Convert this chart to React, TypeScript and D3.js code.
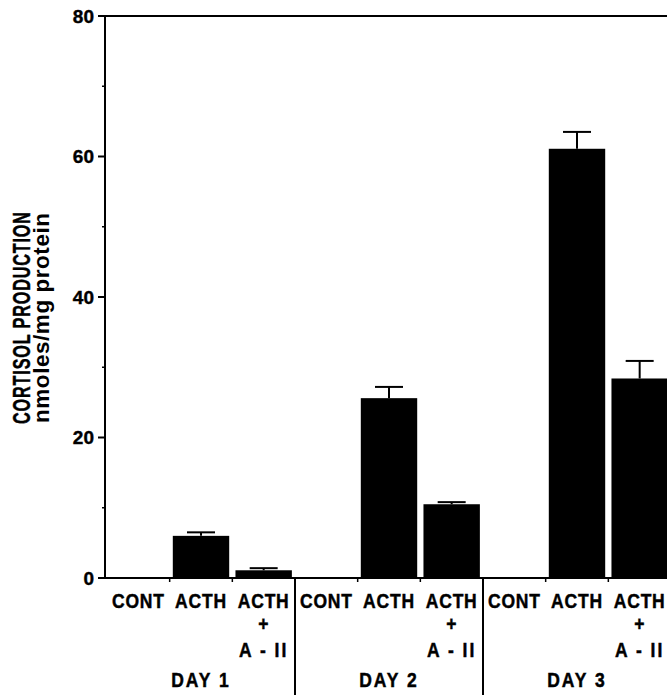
import React, { useRef, useEffect } from 'react'
import * as d3 from 'd3'

const days = ["DAY 1", "DAY 2", "DAY 3"]
const treatments = ["CONT", "ACTH", "ACTH+A-II"]
// mean cortisol per bar, day by day (CONT, ACTH, ACTH + A-II)
const meanValues = [0, 6.0, 1.1, 0, 25.6, 10.5, 0, 61.1, 28.4]
const errValues = [0, 0.5, 0.3, 0, 1.6, 0.3, 0, 2.4, 2.5]
const majorTicks = [0, 20, 40, 60, 80]
const minorTicks = [10, 30, 50, 70]

const FONT = "'Liberation Sans', Arial, sans-serif"

const App = () => {
  const svgRef = useRef<SVGSVGElement>(null)

  useEffect(() => {
    const width = 667
    const height = 695
    const left = 105, top = 16, bottom = 578

    const bars = days.flatMap((day, i) => treatments.map((t, j) => ({
      key: day + "|" + t, day, treat: t,
      value: meanValues[i * 3 + j], err: errValues[i * 3 + j]
    })))

    const svg = d3.select(svgRef.current)
      .attr("width", width)
      .attr("height", height)
    svg.selectAll("*").remove()

    const y = d3.scaleLinear().domain([0, 80]).range([bottom, top])
    const x = d3.scaleBand<string>()
      .domain(bars.map(d => d.key))
      .range([107, 671])
      .paddingInner(0.1)
      .paddingOuter(0.05)
    const gap = (x.step() - x.bandwidth()) / 2
    const slotStart = (k: string) => (x(k) as number) - gap
    const slotEnd = (k: string) => (x(k) as number) + x.bandwidth() + gap

    // bars
    svg.append("g")
      .selectAll("rect")
      .data(bars.filter(d => d.value > 0))
      .join("rect")
        .attr("x", d => x(d.key) as number)
        .attr("width", x.bandwidth())
        .attr("y", d => y(d.value))
        .attr("height", d => y(0) - y(d.value))
        .attr("fill", "#000")

    // error bars
    const eb = svg.append("g").attr("stroke", "#000").attr("stroke-width", 2)
    bars.filter(d => d.err > 0).forEach(d => {
      const cx = (x(d.key) as number) + x.bandwidth() / 2
      eb.append("line").attr("x1", cx).attr("x2", cx)
        .attr("y1", y(d.value)).attr("y2", y(d.value + d.err))
      eb.append("line").attr("x1", cx - 14).attr("x2", cx + 14)
        .attr("y1", y(d.value + d.err)).attr("y2", y(d.value + d.err))
    })

    // frame / axes
    const ax = svg.append("g").attr("stroke", "#000").attr("stroke-width", 2)
    ax.append("line").attr("x1", left).attr("x2", left).attr("y1", top - 1).attr("y2", bottom + 1)
    ax.append("line").attr("x1", 99).attr("x2", width).attr("y1", top).attr("y2", top)
    ax.append("line").attr("x1", left).attr("x2", width).attr("y1", bottom).attr("y2", bottom)

    ax.selectAll(".major").data(majorTicks).join("line")
      .attr("x1", left - 7).attr("x2", left)
      .attr("y1", d => y(d)).attr("y2", d => y(d))
    ax.selectAll(".minor").data(minorTicks).join("line")
      .attr("stroke-width", 1.5)
      .attr("x1", left - 3).attr("x2", left)
      .attr("y1", d => y(d)).attr("y2", d => y(d))

    svg.append("g")
      .attr("font-family", FONT).attr("font-weight", "bold").attr("font-size", 19)
      .attr("stroke", "#000").attr("stroke-width", 0.4)
      .attr("text-anchor", "end")
      .selectAll("text").data(majorTicks).join("text")
        .attr("x", 94).attr("y", d => y(d)).attr("dy", "0.36em")
        .text(d => d)

    // x ticks inside each day and day dividers
    bars.forEach(d => {
      const j = treatments.indexOf(d.treat)
      if (j > 0) {
        ax.append("line").attr("stroke-width", 1.5)
          .attr("x1", slotStart(d.key)).attr("x2", slotStart(d.key))
          .attr("y1", bottom).attr("y2", bottom + 4)
      }
      if (j === 0 && d.day !== days[0]) {
        ax.append("line")
          .attr("x1", slotStart(d.key)).attr("x2", slotStart(d.key))
          .attr("y1", bottom).attr("y2", height)
      }
    })

    // category labels
    const lab = svg.append("g")
      .attr("font-family", FONT).attr("font-weight", "bold").attr("font-size", 17.5)
      .attr("stroke", "#000").attr("stroke-width", 0.4)
      .attr("letter-spacing", 0.8).attr("text-anchor", "middle")
    bars.forEach(d => {
      const cx = (x(d.key) as number) + x.bandwidth() / 2
      const lines = d.treat.split("+")
      lab.append("text").attr("transform", `translate(${cx},608) scale(1,1.18)`).text(lines[0])
      if (lines.length > 1) {
        lab.append("text").attr("transform", `translate(${cx},631) scale(1,1.18)`).text("+")
        lab.append("text").attr("transform", `translate(${cx},657) scale(1,1.18)`)
          .attr("letter-spacing", 2).text(lines[1].replace("-", " - "))
      }
    })

    // day labels
    days.forEach(day => {
      const cx = (slotStart(day + "|" + treatments[0]) + slotEnd(day + "|" + treatments[2])) / 2
      lab.append("text").attr("transform", `translate(${cx},687) scale(1,1.18)`)
        .attr("letter-spacing", 2).text(day)
    })

    // y title
    const yt = svg.append("g")
      .attr("font-family", FONT).attr("font-weight", "bold")
      .attr("text-anchor", "middle")
    yt.append("text")
      .attr("transform", "translate(30,318) rotate(-90) scale(1,1.45)")
      .attr("stroke", "#000").attr("stroke-width", 0.3)
      .attr("font-size", 16.2)
      .attr("textLength", 212).attr("lengthAdjust", "spacing")
      .text("CORTISOL PRODUCTION")
    yt.append("text")
      .attr("transform", "translate(49,318) rotate(-90)")
      .attr("font-size", 22.5)
      .attr("textLength", 210).attr("lengthAdjust", "spacing")
      .text("nmoles/mg protein")
  }, [])

  return (
    <svg ref={svgRef} style={{ position: "absolute", left: 0, top: 0, display: "block", background: "#fff" }} />
  )
}

export default App
